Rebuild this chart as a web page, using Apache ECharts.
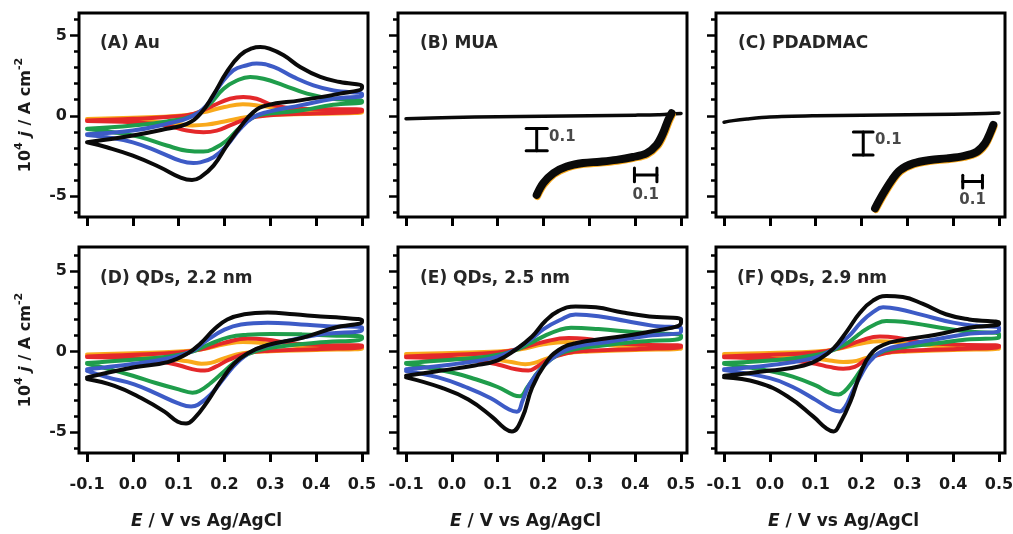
<!DOCTYPE html>
<html><head><meta charset="utf-8">
<script src="https://cdn.jsdelivr.net/npm/echarts@6/dist/echarts.min.js"></script>
<style>html,body{margin:0;padding:0;background:#fff}#c{width:1013px;height:534px}</style>
</head><body><div id="c"></div>
<script>
// ---------- tick values ----------
const xTicks = [-0.1, 0, 0.1, 0.2, 0.3, 0.4, 0.5];
const yMinorTicks = [-6, -5, -4, -3, -2, -1, 0, 1, 2, 3, 4, 5, 6];
const yMajorTicks = [-5, 0, 5];
const panelLabels = ['(A) Au', '(B) MUA', '(C) PDADMAC', '(D) QDs, 2.2 nm', '(E) QDs, 2.5 nm', '(F) QDs, 2.9 nm'];
const scanColors = ['#F9A91B', '#E4282A', '#1F9D4B', '#3D5BC6', '#0a0a0a'];
const scaleBarLabel = '0.1';

// ---------- Panel A (Au) : forward scan then reverse scan ----------
const A_orange = [[-0.1,-0.2],[0.0,-0.12],[0.1,0.0],[0.15,0.2],[0.2,0.55],[0.24,0.72],[0.28,0.62],[0.33,0.42],[0.4,0.3],[0.5,0.28],
  [0.5,0.22],[0.4,0.12],[0.3,0.05],[0.25,-0.08],[0.2,-0.35],[0.16,-0.55],[0.13,-0.6],[0.08,-0.45],[0.0,-0.3],[-0.1,-0.25]];
const A_red = [[-0.1,-0.3],[0.0,-0.19],[0.074,-0.08],[0.132,0.12],[0.176,0.65],[0.212,1.06],[0.241,1.17],[0.27,1.06],[0.307,0.65],[0.365,0.44],[0.5,0.38],
  [0.5,0.3],[0.365,0.12],[0.292,0.02],[0.249,-0.19],[0.212,-0.6],[0.183,-0.92],[0.154,-1.02],[0.118,-0.92],[0.074,-0.6],[0.0,-0.4],[-0.1,-0.32]];
const A_green = [[-0.1,-0.8],[0.0,-0.6],[0.074,-0.35],[0.132,0.02],[0.168,0.75],[0.198,1.69],[0.227,2.2],[0.256,2.42],[0.285,2.31],[0.329,1.9],[0.38,1.38],[0.437,1.06],[0.5,0.92],
  [0.5,0.85],[0.437,0.69],[0.365,0.33],[0.292,0.12],[0.263,-0.08],[0.234,-0.71],[0.205,-1.54],[0.176,-2.06],[0.154,-2.23],[0.118,-2.17],[0.074,-1.85],[0.016,-1.33],[-0.043,-1.02],[-0.1,-0.82]];
const A_blue = [[-0.1,-1.15],[0.0,-0.92],[0.074,-0.5],[0.125,-0.08],[0.161,0.65],[0.19,1.9],[0.219,2.83],[0.249,3.15],[0.27,3.25],[0.307,3.04],[0.35,2.42],[0.394,1.9],[0.438,1.58],[0.5,1.35],
  [0.5,1.25],[0.438,1.06],[0.365,0.65],[0.292,0.23],[0.263,-0.08],[0.234,-0.81],[0.205,-1.85],[0.176,-2.58],[0.147,-2.9],[0.132,-2.94],[0.103,-2.79],[0.059,-2.27],[0.0,-1.65],[-0.057,-1.33],[-0.1,-1.19]];
const A_black = [[-0.1,-1.65],[0.0,-1.23],[0.074,-0.81],[0.118,-0.5],[0.147,0.12],[0.175,1.27],[0.205,2.73],[0.234,3.77],[0.26,4.2],[0.278,4.28],[0.298,4.18],[0.329,3.77],[0.365,3.04],[0.409,2.42],[0.452,2.1],[0.5,1.85],
  [0.5,1.75],[0.452,1.38],[0.365,0.96],[0.292,0.65],[0.263,0.23],[0.234,-0.71],[0.205,-1.85],[0.176,-3.1],[0.147,-3.83],[0.129,-4.0],[0.103,-3.83],[0.059,-3.2],[0.0,-2.48],[-0.057,-1.96],[-0.1,-1.65]];

// ---------- Panel B (MUA) ----------
const B_main = [[-0.1,-0.18],[0.0,-0.1],[0.1,-0.06],[0.2,-0.03],[0.3,0.0],[0.4,0.04],[0.45,0.07],[0.48,0.12],[0.5,0.15]];
const B_inset_orange = [[-0.097,-0.326],[-0.067,-0.273],[-0.022,-0.227],[0.037,-0.197],[0.11,-0.181],[0.185,-0.175],[0.259,-0.167],[0.332,-0.154],[0.393,-0.137],[0.438,-0.1],[0.467,-0.047],[0.49,0.013],[0.504,0.043]];
const B_inset_black = [[-0.1,-0.319],[-0.071,-0.266],[-0.026,-0.221],[0.033,-0.191],[0.106,-0.175],[0.181,-0.169],[0.255,-0.161],[0.328,-0.148],[0.389,-0.131],[0.433,-0.094],[0.462,-0.041],[0.485,0.019],[0.5,0.049]];
const B_scaleBars = [
  [[-0.1,-0.12],[-0.1,-0.02]], [[-0.147,-0.12],[-0.053,-0.12]], [[-0.147,-0.02],[-0.053,-0.02]],
  [[0.335,-0.229],[0.435,-0.229]], [[0.335,-0.26],[0.335,-0.198]], [[0.435,-0.26],[0.435,-0.198]]
];
const B_scaleLabels = [[-0.045,-0.058,'right'], [0.385,-0.319,'inside']];

// ---------- Panel C (PDADMAC) ----------
const C_main = [[-0.1,-0.4],[-0.08,-0.3],[-0.05,-0.2],[0.0,-0.08],[0.1,0.0],[0.2,0.04],[0.3,0.07],[0.4,0.1],[0.45,0.13],[0.5,0.18]];
const C_inset_orange = [[-0.096,-0.318],[-0.054,-0.253],[-0.011,-0.195],[0.031,-0.152],[0.098,-0.123],[0.183,-0.108],[0.268,-0.101],[0.352,-0.091],[0.42,-0.072],[0.462,-0.036],[0.487,0.008],[0.504,0.044]];
const C_inset_black = [[-0.1,-0.312],[-0.058,-0.247],[-0.015,-0.189],[0.027,-0.146],[0.094,-0.117],[0.179,-0.102],[0.264,-0.095],[0.348,-0.085],[0.416,-0.066],[0.458,-0.03],[0.483,0.014],[0.5,0.05]];
const C_scaleBars = [
  [[-0.16,-0.08],[-0.16,0.02]], [[-0.21,-0.08],[-0.11,-0.08]], [[-0.21,0.02],[-0.11,0.02]],
  [[0.345,-0.196],[0.445,-0.196]], [[0.345,-0.224],[0.345,-0.168]], [[0.445,-0.224],[0.445,-0.168]]
];
const C_scaleLabels = [[-0.1,-0.015,'right'], [0.395,-0.276,'inside']];

// ---------- Panel D (QDs 2.2 nm) ----------
const D_orange = [[-0.1,-0.18],[0.0,-0.1],[0.1,0.0],[0.15,0.15],[0.2,0.45],[0.24,0.6],[0.3,0.5],[0.4,0.3],[0.5,0.28],
  [0.5,0.2],[0.4,0.1],[0.3,0.02],[0.24,-0.1],[0.2,-0.4],[0.17,-0.7],[0.15,-0.75],[0.12,-0.6],[0.05,-0.35],[-0.1,-0.22]];
const D_red = [[-0.1,-0.3],[0.0,-0.2],[0.1,-0.05],[0.15,0.15],[0.2,0.55],[0.25,0.82],[0.29,0.75],[0.35,0.5],[0.42,0.4],[0.5,0.38],
  [0.5,0.3],[0.4,0.15],[0.3,0.05],[0.25,-0.1],[0.21,-0.5],[0.18,-0.95],[0.157,-1.18],[0.14,-1.15],[0.1,-0.85],[0.05,-0.55],[0.0,-0.42],[-0.1,-0.33]];
const D_green = [[-0.1,-0.7],[0.0,-0.5],[0.08,-0.3],[0.13,0.0],[0.17,0.5],[0.21,0.9],[0.25,1.05],[0.3,1.1],[0.37,1.07],[0.43,1.0],[0.5,0.92],
  [0.5,0.8],[0.4,0.55],[0.33,0.35],[0.27,0.05],[0.23,-0.5],[0.2,-1.2],[0.17,-1.95],[0.145,-2.45],[0.13,-2.55],[0.1,-2.35],[0.05,-1.95],[0.0,-1.5],[-0.05,-1.1],[-0.1,-0.75]];
const D_blue = [[-0.1,-1.1],[0.003,-0.75],[0.076,-0.43],[0.127,0.0],[0.163,0.73],[0.2,1.37],[0.236,1.69],[0.294,1.8],[0.367,1.69],[0.425,1.58],[0.5,1.5],
  [0.5,1.35],[0.404,1.05],[0.33,0.62],[0.265,0.1],[0.229,-0.65],[0.2,-1.6],[0.17,-2.66],[0.142,-3.3],[0.127,-3.41],[0.098,-3.2],[0.055,-2.66],[0.003,-2.03],[-0.055,-1.6],[-0.1,-1.2]];
const D_black = [[-0.1,-1.6],[0.003,-0.97],[0.076,-0.65],[0.12,-0.11],[0.148,0.52],[0.177,1.37],[0.206,2.0],[0.243,2.32],[0.294,2.43],[0.352,2.32],[0.41,2.18],[0.455,2.1],[0.5,1.95],
  [0.5,1.85],[0.44,1.48],[0.367,0.84],[0.294,0.41],[0.25,-0.11],[0.221,-0.75],[0.192,-1.82],[0.163,-3.09],[0.134,-4.15],[0.116,-4.47],[0.098,-4.36],[0.069,-3.73],[0.018,-2.88],[-0.04,-2.13],[-0.1,-1.7]];

// ---------- Panel E (QDs 2.5 nm) ----------
const E_orange = [[-0.1,-0.15],[0.0,-0.08],[0.1,0.0],[0.15,0.15],[0.2,0.45],[0.25,0.6],[0.3,0.5],[0.4,0.3],[0.5,0.27],
  [0.5,0.2],[0.4,0.1],[0.3,0.0],[0.25,-0.1],[0.21,-0.4],[0.18,-0.7],[0.16,-0.78],[0.13,-0.65],[0.07,-0.4],[0.0,-0.3],[-0.1,-0.2]];
const E_red = [[-0.1,-0.3],[0.0,-0.2],[0.1,-0.05],[0.15,0.2],[0.2,0.6],[0.255,0.84],[0.29,0.8],[0.35,0.55],[0.42,0.42],[0.5,0.38],
  [0.5,0.3],[0.4,0.15],[0.3,0.05],[0.25,-0.1],[0.21,-0.5],[0.185,-0.95],[0.167,-1.18],[0.14,-1.1],[0.1,-0.8],[0.05,-0.55],[0.0,-0.45],[-0.1,-0.35]];
const E_green = [[-0.1,-0.7],[0.0,-0.5],[0.08,-0.3],[0.13,0.0],[0.17,0.5],[0.2,0.95],[0.235,1.35],[0.26,1.48],[0.32,1.4],[0.4,1.2],[0.5,1.0],
  [0.5,0.85],[0.4,0.6],[0.32,0.35],[0.26,0.1],[0.22,-0.4],[0.19,-1.2],[0.165,-2.2],[0.149,-2.77],[0.135,-2.7],[0.1,-2.2],[0.05,-1.7],[0.0,-1.3],[-0.1,-0.75]];
const E_blue = [[-0.1,-1.1],[0.0,-0.8],[0.08,-0.45],[0.13,0.0],[0.17,0.7],[0.2,1.4],[0.235,1.95],[0.27,2.3],[0.32,2.2],[0.38,1.9],[0.44,1.6],[0.5,1.45],
  [0.5,1.25],[0.42,0.95],[0.34,0.6],[0.27,0.3],[0.23,-0.2],[0.2,-0.9],[0.17,-2.0],[0.155,-3.0],[0.142,-3.73],[0.125,-3.6],[0.085,-2.9],[0.03,-2.2],[-0.03,-1.6],[-0.1,-1.2]];
const E_black = [[-0.1,-1.5],[-0.023,-1.18],[0.05,-0.86],[0.1,-0.54],[0.138,0.1],[0.175,0.94],[0.204,1.9],[0.233,2.53],[0.27,2.81],[0.314,2.75],[0.373,2.43],[0.431,2.18],[0.5,2.0],
  [0.5,1.8],[0.417,1.16],[0.343,0.84],[0.27,0.52],[0.233,0.1],[0.204,-0.75],[0.175,-2.24],[0.153,-4.15],[0.131,-4.96],[0.116,-4.79],[0.087,-4.04],[0.036,-2.98],[-0.023,-2.24],[-0.1,-1.6]];

// ---------- Panel F (QDs 2.9 nm) ----------
const F_orange = [[-0.1,-0.15],[0.0,-0.08],[0.1,0.0],[0.15,0.18],[0.2,0.5],[0.24,0.65],[0.3,0.5],[0.4,0.3],[0.5,0.27],
  [0.5,0.2],[0.4,0.1],[0.3,0.0],[0.25,-0.1],[0.21,-0.4],[0.18,-0.62],[0.16,-0.65],[0.13,-0.55],[0.07,-0.35],[0.0,-0.28],[-0.1,-0.2]];
const F_red = [[-0.1,-0.3],[0.0,-0.2],[0.1,-0.05],[0.15,0.2],[0.2,0.7],[0.24,0.94],[0.28,0.85],[0.34,0.55],[0.42,0.42],[0.5,0.38],
  [0.5,0.3],[0.4,0.15],[0.3,0.05],[0.25,-0.1],[0.21,-0.5],[0.185,-0.95],[0.16,-1.07],[0.13,-0.95],[0.1,-0.75],[0.05,-0.55],[0.0,-0.45],[-0.1,-0.35]];
const F_green = [[-0.1,-0.7],[0.0,-0.55],[0.08,-0.3],[0.13,0.0],[0.17,0.55],[0.2,1.2],[0.23,1.7],[0.254,1.9],[0.29,1.85],[0.36,1.55],[0.43,1.25],[0.5,1.1],
  [0.5,0.9],[0.43,0.75],[0.36,0.5],[0.3,0.3],[0.25,0.05],[0.22,-0.45],[0.2,-1.1],[0.18,-1.9],[0.162,-2.5],[0.15,-2.66],[0.13,-2.55],[0.1,-2.1],[0.05,-1.55],[0.0,-1.2],[-0.1,-0.75]];
const F_blue = [[-0.1,-1.1],[0.0,-0.85],[0.08,-0.5],[0.13,0.0],[0.17,0.9],[0.2,1.85],[0.225,2.45],[0.247,2.75],[0.28,2.65],[0.33,2.3],[0.4,1.8],[0.45,1.6],[0.5,1.5],
  [0.5,1.3],[0.43,1.1],[0.36,0.75],[0.3,0.45],[0.25,0.1],[0.22,-0.55],[0.2,-1.4],[0.18,-2.5],[0.165,-3.4],[0.152,-3.72],[0.135,-3.6],[0.1,-3.0],[0.05,-2.2],[0.0,-1.65],[-0.1,-1.15]];
const F_black = [[-0.1,-1.5],[0.002,-1.18],[0.074,-0.86],[0.11,-0.43],[0.139,0.2],[0.168,1.26],[0.197,2.43],[0.225,3.17],[0.254,3.45],[0.29,3.39],[0.334,2.96],[0.384,2.32],[0.435,2.0],[0.5,1.8],
  [0.5,1.72],[0.435,1.48],[0.362,1.05],[0.29,0.73],[0.247,0.41],[0.218,-0.22],[0.197,-1.39],[0.176,-3.09],[0.153,-4.47],[0.139,-4.96],[0.124,-4.79],[0.095,-4.04],[0.038,-2.77],[-0.027,-1.92],[-0.1,-1.6]];

// ---------- layout ----------
const FONT = 'DejaVu Sans';
const colLefts = [79, 398, 716];
const panelW = 289;
const rows = [
  {top: 13, height: 204, min: -6.3, max: 6.4},
  {top: 247, height: 206, min: -6.3, max: 6.5}
];
const xMin = -0.1175, xMax = 0.513;
const labelPos = [[100,35],[420,35],[738,35],[100,270],[420,270],[737,270]];

const grid = [], xAxis = [], yAxis = [], series = [], title = [];

for (let p = 0; p < 6; p++) {
  const r = Math.floor(p / 3), c = p % 3, row = rows[r];
  grid.push({left: colLefts[c], top: row.top, width: panelW, height: row.height,
    show: true, borderColor: '#000', borderWidth: 3, backgroundColor: 'rgba(0,0,0,0)',
    containLabel: false, outerBoundsMode: 'none'});
  const bottomRow = r === 1;
  xAxis.push({gridIndex: p, type: 'value', min: xMin, max: xMax, position: 'bottom',
    axisLine: {show: false, onZero: false}, splitLine: {show: false},
    axisTick: {show: true, customValues: xTicks, length: 9, lineStyle: {color: '#000', width: 3}},
    axisLabel: {show: bottomRow, customValues: xTicks, formatter: v => v.toFixed(1), margin: 24,
      fontFamily: FONT, fontWeight: 'bold', fontSize: 16, color: '#1a1a1a'},
    name: bottomRow ? '{i|E}{b| / V vs Ag/AgCl}' : '', nameLocation: 'middle', nameGap: 60,
    nameTextStyle: {padding: [0, 34, 0, 0], rich: {
      i: {fontFamily: FONT, fontWeight: 'bold', fontStyle: 'italic', fontSize: 17, color: '#1a1a1a'},
      b: {fontFamily: FONT, fontWeight: 'bold', fontSize: 17, color: '#1a1a1a'}}}
  });
  const firstCol = c === 0;
  yAxis.push({gridIndex: p, type: 'value', min: row.min, max: row.max, position: 'left',
    axisLine: {show: false, onZero: false}, splitLine: {show: false},
    axisTick: {show: true, customValues: yMinorTicks, length: 5, lineStyle: {color: '#000', width: 2.5}},
    axisLabel: {show: firstCol, customValues: yMajorTicks, margin: 12,
      fontFamily: FONT, fontWeight: 'bold', fontSize: 16, color: '#1a1a1a'},
    name: firstCol ? '{b|10}{s|4}{b| }{i|j}{b| / A cm}{s|-2}' : '', nameLocation: 'middle', nameRotate: 90, nameGap: 41,
    nameTextStyle: {rich: {
      b: {fontFamily: FONT, fontWeight: 'bold', fontSize: 16, lineHeight: 24, color: '#1a1a1a'},
      i: {fontFamily: FONT, fontWeight: 'bold', fontStyle: 'italic', fontSize: 16, lineHeight: 24, color: '#1a1a1a'},
      s: {fontFamily: FONT, fontWeight: 'bold', fontSize: 11, verticalAlign: 'top', color: '#1a1a1a'}}}
  });
  title.push({text: panelLabels[p], left: labelPos[p][0], top: labelPos[p][1], padding: 0,
    textStyle: {fontFamily: FONT, fontWeight: 'bold', fontSize: 17, color: '#262626'}});
}
// major y ticks (second axis per panel, indices 6..11)
for (let p = 0; p < 6; p++) {
  const row = rows[Math.floor(p / 3)];
  yAxis.push({gridIndex: p, type: 'value', min: row.min, max: row.max, position: 'left', offset: 0,
    axisLine: {show: false, onZero: false}, splitLine: {show: false}, axisLabel: {show: false},
    axisTick: {show: true, customValues: yMajorTicks, length: 9, lineStyle: {color: '#000', width: 2.5}}});
}
// inset grids (6: MUA, 7: PDADMAC)
const insets = [
  {left: 503, top: 102, width: 191, height: 122, xmin: -0.25, xmax: 0.6, ymin: -0.45, ymax: 0.1},
  {left: 845.5, top: 113.5, width: 167.5, height: 126.5, xmin: -0.25, xmax: 0.6, ymin: -0.45, ymax: 0.1}
];
insets.forEach((g, k) => {
  grid.push({left: g.left, top: g.top, width: g.width, height: g.height, show: false, containLabel: false, outerBoundsMode: 'none'});
  xAxis.push({gridIndex: 6 + k, type: 'value', min: g.xmin, max: g.xmax, show: false});
  yAxis.push({gridIndex: 6 + k, type: 'value', min: g.ymin, max: g.ymax, show: false});
});

function line(idx, yIdx, data, color, width, smooth) {
  return {type: 'line', xAxisIndex: idx, yAxisIndex: yIdx, data: data, showSymbol: false, symbol: 'none',
    smooth: smooth, clip: false, silent: true, animation: false,
    lineStyle: {color: color, width: width, cap: 'round', join: 'round'}};
}

const cvPanels = {0: [A_orange, A_red, A_green, A_blue, A_black],
                  3: [D_orange, D_red, D_green, D_blue, D_black],
                  4: [E_orange, E_red, E_green, E_blue, E_black],
                  5: [F_orange, F_red, F_green, F_blue, F_black]};
Object.keys(cvPanels).forEach(k => {
  const p = +k;
  cvPanels[k].forEach((d, j) => series.push(line(p, p, d, scanColors[j], 4, 0.45)));
});
// MUA and PDADMAC flat CVs
series.push(line(1, 1, B_main, scanColors[4], 3.5, 0.3));
series.push(line(2, 2, C_main, scanColors[4], 3.5, 0.3));
// insets
[[6, B_inset_orange, B_inset_black, B_scaleBars, B_scaleLabels],
 [7, C_inset_orange, C_inset_black, C_scaleBars, C_scaleLabels]].forEach(([gi, dOr, dBk, bars, labs]) => {
  series.push(line(gi, 12 + (gi - 6), dOr, scanColors[0], 7, 0.35));
  series.push(line(gi, 12 + (gi - 6), dBk, scanColors[4], 8, 0.35));
  bars.forEach(b => series.push(line(gi, 12 + (gi - 6), b, '#000', 3, false)));
  labs.forEach(l => series.push({type: 'scatter', xAxisIndex: gi, yAxisIndex: 12 + (gi - 6),
    data: [[l[0], l[1]]], symbolSize: 0, silent: true, animation: false,
    label: {show: true, formatter: scaleBarLabel, position: l[2], distance: 0,
      fontFamily: FONT, fontWeight: 'bold', fontSize: 15, color: '#1a1a1a'}}));
});

const chart = echarts.init(document.getElementById('c'), null, {renderer: 'canvas'});
chart.setOption({backgroundColor: '#fff', animation: false, title, grid, xAxis, yAxis, series});
</script></body></html>
